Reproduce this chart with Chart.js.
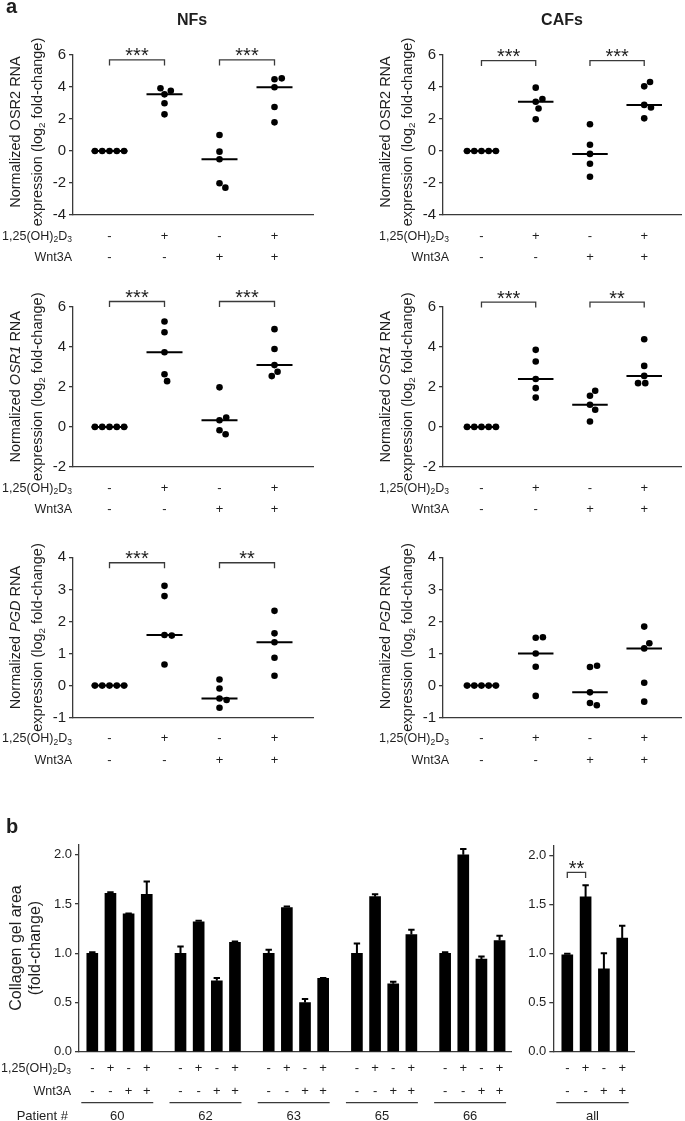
<!DOCTYPE html>
<html>
<head>
<meta charset="utf-8">
<script src="https://cdn.jsdelivr.net/npm/chart.js@4"></script>
<style>
  html, body { margin: 0; padding: 0; background: #fff; }
  #fig { position: relative; width: 685px; height: 1121px; overflow: hidden; }
  #fig canvas { position: absolute; left: 0; top: 0; }
</style>
</head>
<body>
<div id="fig"></div>
<script>
// ---- panel a : qPCR scatter (log2 fold-change) ----
const treatments = [1, 2, 3, 4];
const vitdRow = ['-', '+', '-', '+'];
const wntRow = ['-', '-', '+', '+'];

const nfOsr2 = [[0, 0, 0, 0, 0], [3.92, 3.77, 3.54, 2.98, 2.29], [1.0, -0.04, -0.52, -2.02, -2.29], [4.54, 4.48, 3.98, 2.75, 1.79]];
const cafOsr2 = [[0, 0, 0, 0, 0], [3.96, 3.25, 3.08, 2.66, 1.98], [1.67, 0.39, -0.18, -0.80, -1.61], [4.31, 4.04, 2.88, 2.72, 2.04]];
const nfOsr1 = [[0, 0, 0, 0, 0], [5.25, 4.72, 3.72, 2.62, 2.28], [1.97, 0.47, 0.33, -0.17, -0.37], [4.87, 3.88, 3.08, 2.75, 2.53]];
const cafOsr1 = [[0, 0, 0, 0, 0], [3.84, 3.26, 2.39, 1.93, 1.46], [1.80, 1.55, 1.10, 0.85, 0.27], [4.37, 3.04, 2.54, 2.18, 2.18]];
const nfPgd = [[0, 0, 0, 0, 0], [3.11, 2.79, 1.58, 1.56, 0.66], [0.19, -0.09, -0.40, -0.45, -0.69], [2.33, 1.63, 1.35, 0.87, 0.31]];
const cafPgd = [[0, 0, 0, 0, 0], [1.51, 1.49, 1.00, 0.59, -0.32], [0.62, 0.58, -0.21, -0.54, -0.61], [1.84, 1.32, 1.16, 0.09, -0.50]];

const osr2Ticks = [-4, -2, 0, 2, 4, 6];
const osr1Ticks = [-2, 0, 2, 4, 6];
const pgdTicks = [-1, 0, 1, 2, 3, 4];

// significance brackets (treatment from/to, height in axis units)
const sigNfOsr2 = [{ from: 1, to: 2, y: 5.69, label: '***' }, { from: 3, to: 4, y: 5.69, label: '***' }];
const sigCafOsr2 = [{ from: 1, to: 2, y: 5.65, label: '***' }, { from: 3, to: 4, y: 5.65, label: '***' }];
const sigNfOsr1 = [{ from: 1, to: 2, y: 6.25, label: '***' }, { from: 3, to: 4, y: 6.25, label: '***' }];
const sigCafOsr1 = [{ from: 1, to: 2, y: 6.22, label: '***' }, { from: 3, to: 4, y: 6.22, label: '**' }];
const sigNfPgd = [{ from: 1, to: 2, y: 3.83, label: '***' }, { from: 3, to: 4, y: 3.83, label: '**' }];

// ---- panel b : collagen gel area ----
const patients = ['60', '62', '63', '65', '66'];
const vitdBars = ['-', '+', '-', '+'];
const wntBars = ['-', '-', '+', '+'];
const gelArea = [[1.00, 1.61, 1.40, 1.60], [1.00, 1.32, 0.72, 1.11], [1.00, 1.465, 0.50, 0.745], [1.00, 1.575, 0.69, 1.19], [1.00, 2.00, 0.94, 1.13]];
const gelErr = [[0.01, 0.01, 0.005, 0.13], [0.07, 0.01, 0.03, 0.01], [0.035, 0.01, 0.036, 0.005], [0.10, 0.025, 0.02, 0.05], [0.01, 0.06, 0.026, 0.047]];
const gelAll = [0.99, 1.58, 0.845, 1.16];
const gelAllErr = [0.01, 0.12, 0.16, 0.125];
const gelTicks = [0, 0.5, 1.0, 1.5, 2.0];
const sigAll = [{ from: 0, to: 1, y: 1.83, label: '**' }];

// ---- layout ----
const W = 685, H = 1121;
const FONT = '"Liberation Sans", Arial, Helvetica, sans-serif';
const INK = '#1e1e1e', AXIS = '#3a3a3a';
const PITCH = 55;          // px between treatment columns
const DOT_R = 3.3, DOT_GAP = 7.3, MED_HALF = 18;
const Y_BOX = 40;          // width reserved for y tick labels
const TITLE_SIZE = 14.5;
const VITD = ['1,25(OH)', { t: '2', s: true }, 'D', { t: '3', s: true }];

const cols = [
  { axisX: 73, right: 313, cat1: 109.5, labelRight: 72, titleX: [15, 37], head: 'NFs', headX: 192 },
  { axisX: 443, right: 685, cat1: 482, labelRight: 449, titleX: [385, 407], head: 'CAFs', headX: 562 },
];
const rows = [
  { top: 55, bottom: 215, titleDy: -3 },
  { top: 306.5, bottom: 467, titleDy: 0 },
  { top: 557.3, bottom: 717.7, titleDy: 0 },
];

// ---- helpers ----
const median = (a) => {
  const s = [...a].sort((p, q) => p - q), m = s.length >> 1;
  return s.length % 2 ? s[m] : (s[m - 1] + s[m]) / 2;
};

// simple beeswarm: dots closest to the median are placed first, nearest free spot to the column centre
function swarm(vals, pxPerY, d) {
  const med = median(vals);
  const order = vals.map((v, k) => k).sort((a, b) => Math.abs(vals[a] - med) - Math.abs(vals[b] - med));
  const placed = [], dx = vals.map(() => 0);
  order.forEach((k) => {
    const py = vals[k] * pxPerY;
    const cands = [0];
    placed.forEach((p) => {
      const dy = Math.abs(p.py - py);
      if (dy < d) { const w = Math.sqrt(d * d - dy * dy); cands.push(p.x + w, p.x - w); }
    });
    cands.sort((a, b) => Math.abs(a) - Math.abs(b) || b - a);
    const x = cands.find((c) => placed.every((p) => Math.hypot(p.x - c, p.py - py) >= d - 1e-6));
    placed.push({ x, py });
    dx[k] = x;
  });
  return dx;
}

const partFont = (p, size) => `${p.i ? 'italic ' : ''}${p.b ? 'bold ' : ''}${p.s ? size * 0.68 : size}px ${FONT}`;

// draws text made of plain / italic / subscript parts, y = visual middle of capitals
function drawRich(ctx, parts, x, y, size, align) {
  parts = parts.map((p) => (typeof p === 'string' ? { t: p } : p));
  let w = 0;
  parts.forEach((p) => { ctx.font = partFont(p, size); w += ctx.measureText(p.t).width; });
  let cx = align === 'right' ? x - w : align === 'center' ? x - w / 2 : x;
  const base = y + size * 0.36;
  ctx.textAlign = 'left';
  ctx.textBaseline = 'alphabetic';
  parts.forEach((p) => {
    ctx.font = partFont(p, size);
    ctx.fillText(p.t, cx, p.s ? base + size * 0.22 : base);
    cx += ctx.measureText(p.t).width;
  });
}

function drawVertical(ctx, parts, x, y, size) {
  ctx.save();
  ctx.translate(x, y);
  ctx.rotate(-Math.PI / 2);
  drawRich(ctx, parts, 0, 0, size, 'center');
  ctx.restore();
}

function drawBracket(ctx, x1, x2, y, label) {
  ctx.lineWidth = 1.3;
  ctx.strokeStyle = AXIS;
  ctx.beginPath();
  ctx.moveTo(x1, y + 5.5); ctx.lineTo(x1, y); ctx.lineTo(x2, y); ctx.lineTo(x2, y + 5.5);
  ctx.stroke();
  ctx.font = `20px ${FONT}`;
  ctx.textAlign = 'center';
  ctx.textBaseline = 'alphabetic';
  ctx.fillText(label, (x1 + x2) / 2, y + 2.5);
}

function addCanvas() {
  const c = document.createElement('canvas');
  c.width = W; c.height = H;
  document.getElementById('fig').appendChild(c);
  return c.getContext('2d');
}

const annot = (fn) => ({
  id: 'annot',
  afterDraw(chart) {
    const ctx = chart.ctx;
    ctx.save();
    ctx.fillStyle = INK;
    fn(ctx, chart.scales.x, chart.scales.y);
    ctx.restore();
  },
});

function yScale(min, max, ticks, size, fmt) {
  const s = {
    min, max,
    afterBuildTicks: (sc) => { sc.ticks = ticks.map((v) => ({ value: v })); },
    grid: { drawOnChartArea: false, color: AXIS, lineWidth: 1.3, tickLength: 4 },
    border: { color: AXIS, width: 1.3 },
    ticks: { color: INK, font: { family: FONT, size }, padding: 3 },
    afterFit: (sc) => { sc.width = Y_BOX; },
  };
  if (fmt) s.ticks.callback = fmt;
  return s;
}

function xScale(min, max) {
  return {
    type: 'linear', min, max, offset: false,
    grid: { display: false }, ticks: { display: false },
    border: { color: AXIS, width: 1.3 },
    afterFit: (s) => { s.height = 0; },
  };
}

// ---- panel a charts ----
const panels = [
  { col: 0, row: 0, values: nfOsr2, ticks: osr2Ticks, gene: 'OSR2', italic: false, sig: sigNfOsr2 },
  { col: 1, row: 0, values: cafOsr2, ticks: osr2Ticks, gene: 'OSR2', italic: false, sig: sigCafOsr2 },
  { col: 0, row: 1, values: nfOsr1, ticks: osr1Ticks, gene: 'OSR1', italic: true, sig: sigNfOsr1 },
  { col: 1, row: 1, values: cafOsr1, ticks: osr1Ticks, gene: 'OSR1', italic: true, sig: sigCafOsr1 },
  { col: 0, row: 2, values: nfPgd, ticks: pgdTicks, gene: 'PGD', italic: true, sig: sigNfPgd },
  { col: 1, row: 2, values: cafPgd, ticks: pgdTicks, gene: 'PGD', italic: true, sig: [] },
];

panels.forEach((p) => {
  const col = cols[p.col], row = rows[p.row];
  const ymin = p.ticks[0], ymax = p.ticks[p.ticks.length - 1];
  const pxPerY = (row.bottom - row.top) / (ymax - ymin);
  const xmin = 1 - (col.cat1 - col.axisX) / PITCH;
  const xmax = 1 + (col.right - col.cat1) / PITCH;

  const dots = [], meds = [];
  p.values.forEach((vals, gi) => {
    const cx = treatments[gi];
    const dx = swarm(vals, pxPerY, DOT_GAP);
    vals.forEach((v, k) => dots.push({ x: cx + dx[k] / PITCH, y: v }));
    const m = median(vals);
    meds.push({ x: cx - MED_HALF / PITCH, y: m }, { x: cx + MED_HALF / PITCH, y: m }, { x: cx, y: null });
  });

  new Chart(addCanvas(), {
    type: 'scatter',
    data: {
      datasets: [
        { data: dots, pointRadius: DOT_R, pointHoverRadius: DOT_R, backgroundColor: '#000', borderWidth: 0, clip: false },
        { data: meds, showLine: true, spanGaps: false, pointRadius: 0, borderColor: '#000', borderWidth: 2, clip: false },
      ],
    },
    options: {
      responsive: false, animation: false, events: [],
      layout: { padding: { left: col.axisX - Y_BOX, right: W - col.right, top: row.top, bottom: H - row.bottom } },
      plugins: { legend: { display: false }, tooltip: { enabled: false } },
      scales: { x: xScale(xmin, xmax), y: yScale(ymin, ymax, p.ticks, 15) },
    },
    plugins: [annot((ctx, xs, ys) => {
      if (p.row === 0) {
        drawRich(ctx, [{ t: col.head, b: true }], col.headX, 19, 16, 'center');
        if (p.col === 0) {
          ctx.font = `bold 20px ${FONT}`;
          ctx.textAlign = 'left'; ctx.textBaseline = 'alphabetic';
          ctx.fillText('a', 6, 13);
        }
      }
      const yc = (row.top + row.bottom) / 2 + row.titleDy;
      drawVertical(ctx, ['Normalized ', { t: p.gene, i: p.italic }, ' RNA'], col.titleX[0], yc, TITLE_SIZE);
      drawVertical(ctx, ['expression (log', { t: '2', s: true }, ' fold-change)'], col.titleX[1], yc, TITLE_SIZE);

      p.sig.forEach((b) => drawBracket(ctx, xs.getPixelForValue(b.from), xs.getPixelForValue(b.to), ys.getPixelForValue(b.y), b.label));

      const r1 = row.bottom + 20, r2 = row.bottom + 41.5;
      drawRich(ctx, VITD, col.labelRight, r1, 12.5, 'right');
      drawRich(ctx, ['Wnt3A'], col.labelRight, r2, 12.5, 'right');
      treatments.forEach((t, i) => {
        const x = xs.getPixelForValue(t);
        drawRich(ctx, [vitdRow[i]], x, r1, 13, 'center');
        drawRich(ctx, [wntRow[i]], x, r2, 13, 'center');
      });
    })],
  });
});

// ---- panel b charts ----
const GROUP_STRIDE = 4.86;   // bar slots from one patient to the next
const bParts = [
  { axisX: 79, right: 511.7, bar1: 92.3, pitch: 18.15, top: 845, bottom: 1051.7,
    groups: patients, values: gelArea, errs: gelErr, sig: [] },
  { axisX: 553.3, right: 634.3, bar1: 567.3, pitch: 18.3, top: 846, bottom: 1051.7,
    groups: ['all'], values: [gelAll], errs: [gelAllErr], sig: sigAll },
];
const B_TOP = 2.1;

bParts.forEach((bp, bi) => {
  const pts = [], errs = [];
  bp.values.forEach((g, gi) => g.forEach((v, i) => {
    pts.push({ x: gi * GROUP_STRIDE + i, y: v });
    errs.push(bp.errs[gi][i]);
  }));
  const xmin = -(bp.bar1 - bp.axisX) / bp.pitch;
  const xmax = (bp.right - bp.bar1) / bp.pitch;

  new Chart(addCanvas(), {
    type: 'bar',
    data: { datasets: [{ data: pts, backgroundColor: '#000', borderWidth: 0, barThickness: 11 }] },
    options: {
      responsive: false, animation: false, events: [],
      layout: { padding: { left: bp.axisX - Y_BOX, right: W - bp.right, top: bp.top, bottom: H - bp.bottom } },
      plugins: { legend: { display: false }, tooltip: { enabled: false } },
      scales: {
        x: xScale(xmin, xmax),
        y: yScale(0, B_TOP, gelTicks, 13, (v) => Number(v).toFixed(1)),
      },
    },
    plugins: [annot((ctx, xs, ys) => {
      // error bars (upper side only)
      ctx.strokeStyle = '#000';
      ctx.lineWidth = 2;
      pts.forEach((pt, k) => {
        const x = xs.getPixelForValue(pt.x);
        const y0 = ys.getPixelForValue(pt.y), y1 = ys.getPixelForValue(pt.y + errs[k]);
        ctx.beginPath();
        ctx.moveTo(x, y0); ctx.lineTo(x, y1);
        ctx.moveTo(x - 3.2, y1); ctx.lineTo(x + 3.2, y1);
        ctx.stroke();
      });
      bp.sig.forEach((b) => drawBracket(ctx, xs.getPixelForValue(b.from), xs.getPixelForValue(b.to), ys.getPixelForValue(b.y), b.label));

      if (bi === 0) {
        ctx.font = `bold 20px ${FONT}`;
        ctx.textAlign = 'left'; ctx.textBaseline = 'alphabetic';
        ctx.fillText('b', 6, 833);
        drawVertical(ctx, ['Collagen gel area'], 15, 948, 16);
        drawVertical(ctx, ['(fold-change)'], 34, 948, 16);
        drawRich(ctx, VITD, 71, 1067, 12.5, 'right');
        drawRich(ctx, ['Wnt3A'], 71, 1090, 12.5, 'right');
        drawRich(ctx, ['Patient #'], 68, 1115, 13, 'right');
      }
      bp.groups.forEach((name, gi) => {
        const xa = xs.getPixelForValue(gi * GROUP_STRIDE);
        const xb = xs.getPixelForValue(gi * GROUP_STRIDE + 3);
        vitdBars.forEach((s, i) => {
          const x = xs.getPixelForValue(gi * GROUP_STRIDE + i);
          drawRich(ctx, [s], x, 1067, 13, 'center');
          drawRich(ctx, [wntBars[i]], x, 1090, 13, 'center');
        });
        ctx.strokeStyle = AXIS;
        ctx.lineWidth = 1.2;
        ctx.beginPath();
        ctx.moveTo(xa - 11, 1102.7); ctx.lineTo(xb + 6.5, 1102.7);
        ctx.stroke();
        drawRich(ctx, [name], (xa - 11 + xb + 6.5) / 2, 1115, 13, 'center');
      });
    })],
  });
});
</script>
</body>
</html>
